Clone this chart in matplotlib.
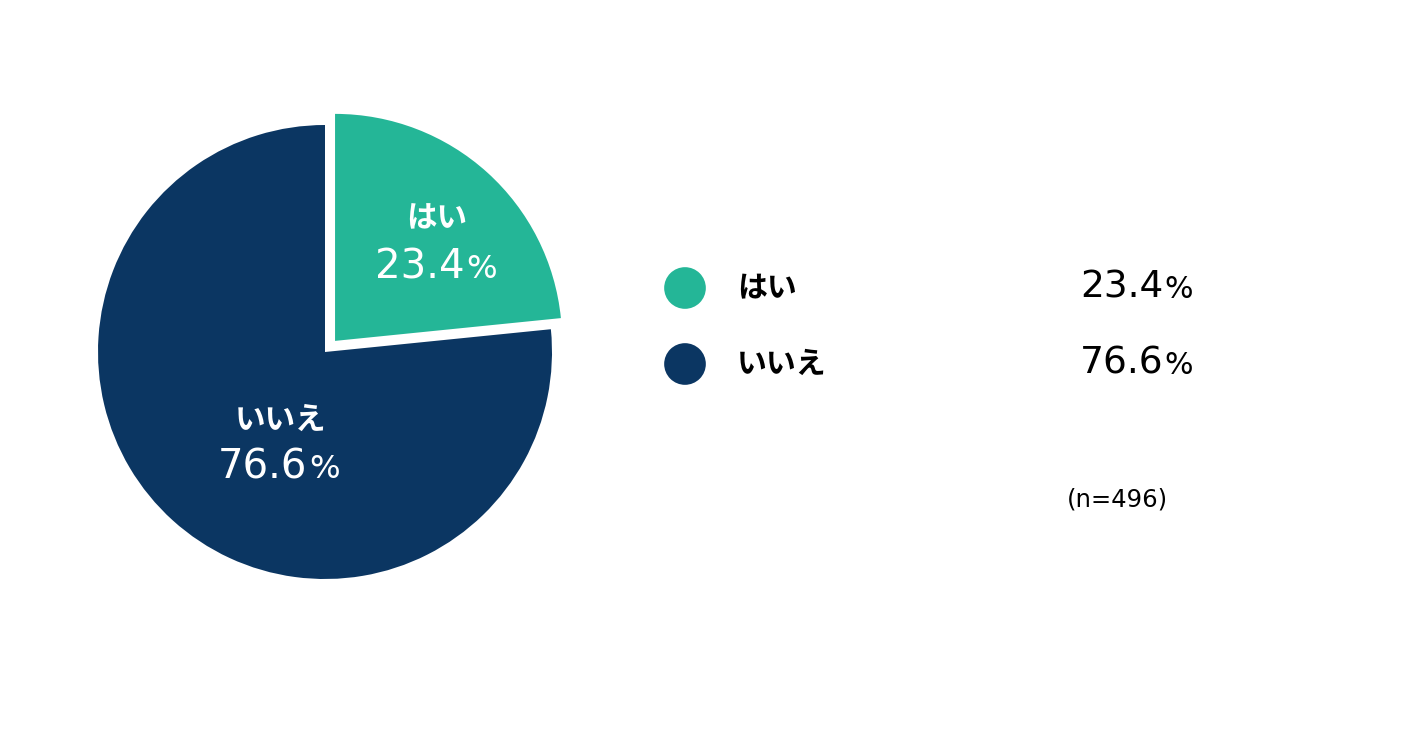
import matplotlib
matplotlib.use("Agg")
import matplotlib.pyplot as plt
from matplotlib.offsetbox import TextArea, HPacker, AnnotationBbox

# ==========================
# data
# ==========================
labels = ["はい", "いいえ"]
values = [23.4, 76.6]
colors = ["#24B697", "#0B3662"]
n_total = 496

JP = "Noto Sans CJK JP"
NUM = "DejaVu Sans"

W, H = 1404, 730
fig = plt.figure(figsize=(W / 100, H / 100), dpi=100)

# ==========================
# pie (center 325,352 px, radius 227 px)
# ==========================
cx, cy, r = 325, 352, 227
span = 2.2 * r
ax = fig.add_axes([(cx - span / 2) / W, (H - cy - span / 2) / H, span / W, span / H])
ax.pie(values, colors=colors, startangle=90, counterclock=False,
       explode=[0.066, 0], wedgeprops=dict(linewidth=0))
ax.set_xlim(-1.1, 1.1)
ax.set_ylim(-1.1, 1.1)
ax.set_aspect("equal")
ax.axis("off")


def pct_box(value, size, color):
    num = TextArea(f"{value:.1f}", textprops=dict(fontsize=size, color=color, family=NUM))
    pct = TextArea("%", textprops=dict(fontsize=size * 0.8, color=color, family=NUM))
    return HPacker(children=[num, pct], align="baseline", pad=0, sep=1)


# label positions inside the wedges (data units)
name_pos = [(0.493, 0.590), (-0.194, -0.300)]
pct_pos = [(0.489, 0.374), (-0.203, -0.507)]
for lab, val, npos, ppos in zip(labels, values, name_pos, pct_pos):
    ax.text(*npos, lab, ha="center", va="center", fontsize=22, color="white",
            fontweight="bold", family=JP)
    ab = AnnotationBbox(pct_box(val, 29, "white"), ppos, xycoords="data",
                        frameon=False, box_alignment=(0.5, 0.5), pad=0)
    ax.add_artist(ab)

# ==========================
# legend (pixel coords)
# ==========================
lg = fig.add_axes([0, 0, 1, 1])
lg.set_xlim(0, W)
lg.set_ylim(H, 0)
lg.axis("off")
lg.patch.set_visible(False)

for i, (lab, val, c) in enumerate(zip(labels, values, colors)):
    y = 288 + i * 76
    lg.scatter(685, y, s=900, color=c, edgecolors="none")
    lg.text(737, y, lab, ha="left", va="center", fontsize=21.5, fontweight="bold",
            family=JP, color="black")
    ab = AnnotationBbox(pct_box(val, 27, "black"), (1193, y), xycoords="data",
                        frameon=False, box_alignment=(1, 0.5), pad=0)
    lg.add_artist(ab)

lg.text(1117, 500, f"(n={n_total})", ha="center", va="center", fontsize=17.5,
        family=NUM, color="black")

fig.savefig("out.png", dpi=100)
plt.close()
